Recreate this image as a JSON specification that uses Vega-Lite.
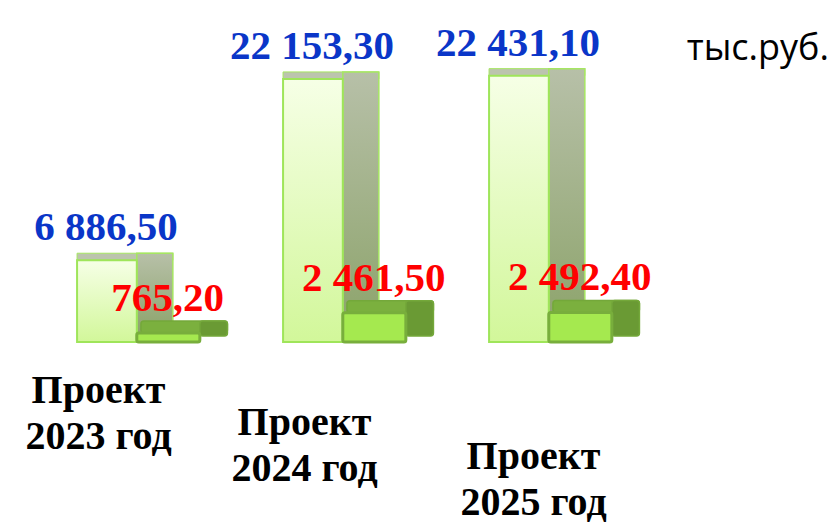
{
  "$schema": "https://vega.github.io/schema/vega-lite/v6.json",
  "width": 834,
  "height": 342,
  "autosize": {"type": "none"},
  "padding": {"left": 0, "right": 0, "top": 0, "bottom": 181},
  "background": "white",
  "config": {
    "view": {"stroke": null},
    "locale": {"number": {"decimal": ",", "thousands": " ", "grouping": [3], "currency": ["", ""]}}
  },
  "title": {
    "text": "тыс.руб.",
    "anchor": "end",
    "frame": "group",
    "orient": "top",
    "baseline": "alphabetic",
    "offset": -96,
    "dx": -5,
    "font": "Open Sans",
    "fontSize": 36,
    "fontWeight": "normal",
    "color": "#000000"
  },
  "data": {
    "values": [
      {"year": "Проект 2023 год", "a": 6886.5, "b": 765.2},
      {"year": "Проект 2024 год", "a": 22153.3, "b": 2461.5},
      {"year": "Проект 2025 год", "a": 22431.1, "b": 2492.4}
    ]
  },
  "layer": [
    {
      "mark": {"type": "rect", "fill": "#bcc4ae", "stroke": "#a6e662", "strokeWidth": 1, "yOffset": -7},
      "encoding": {
        "x": {
          "field": "year", "type": "nominal", "sort": null, "bandPosition": 0.26,
          "scale": {"type": "band", "range": [23.5, 641.5], "paddingInner": 0, "paddingOuter": 0},
          "axis": {
            "title": null, "domain": false, "ticks": false, "tickSize": 0, "grid": false,
            "bandPosition": 0.5,
            "labelAngle": 0, "labelFont": "Liberation Serif", "labelFontSize": 40,
            "labelFontWeight": "bold", "labelColor": "#000000", "labelLineHeight": 46,
            "labelLimit": 0, "labelOverlap": false, "labelBound": false, "labelFlush": false,
            "labelExpr": "[substring(datum.label, 0, 6), substring(datum.label, 7)]",
            "labelPadding": {
              "condition": [
                {"test": "datum.value == 'Проект 2024 год'", "value": 60},
                {"test": "datum.value == 'Проект 2025 год'", "value": 94}
              ],
              "value": 28
            },
            "labelOffset": {
              "condition": {"test": "datum.value == 'Проект 2025 год'", "value": -5},
              "value": -28
            }
          }
        },
        "x2": {"field": "year", "bandPosition": 0.725},
        "y": {"field": "a", "type": "quantitative", "scale": {"domain": [0, 28800], "nice": false}, "axis": null},
        "y2": {"field": "a"}
      }
    },
    {
      "mark": {
        "type": "rect", "stroke": "#a6e662", "strokeWidth": 1.5, "yOffset": -7, "y2Offset": -7,
        "fill": {"gradient": "linear", "x1": 0, "y1": 0, "x2": 0, "y2": 1,
          "stops": [{"offset": 0, "color": "#b7c0a8"}, {"offset": 1, "color": "#8ca36a"}]}
      },
      "encoding": {
        "x": {"field": "year", "type": "nominal", "sort": null, "bandPosition": 0.55},
        "x2": {"field": "year", "bandPosition": 0.725},
        "y": {"field": "a", "type": "quantitative"},
        "y2": {"datum": 0}
      }
    },
    {
      "mark": {
        "type": "rect", "stroke": "#9fe55a", "strokeWidth": 2,
        "fill": {"gradient": "linear", "x1": 0, "y1": 0, "x2": 0, "y2": 1,
          "stops": [{"offset": 0, "color": "#f6ffe6"}, {"offset": 1, "color": "#d2f79a"}]}
      },
      "encoding": {
        "x": {"field": "year", "type": "nominal", "sort": null, "bandPosition": 0.26},
        "x2": {"field": "year", "bandPosition": 0.55},
        "y": {"field": "a", "type": "quantitative"},
        "y2": {"datum": 0}
      }
    },
    {
      "mark": {"type": "rect", "fill": "#7bb03e", "stroke": "#74a83a", "strokeWidth": 1.5, "yOffset": -12, "cornerRadius": 3},
      "encoding": {
        "x": {"field": "year", "type": "nominal", "sort": null, "bandPosition": 0.57},
        "x2": {"field": "year", "bandPosition": 0.99},
        "y": {"field": "b", "type": "quantitative"},
        "y2": {"field": "b"}
      }
    },
    {
      "mark": {"type": "rect", "fill": "#6a9a34", "stroke": "#74a83a", "strokeWidth": 1.5, "yOffset": -12, "y2Offset": -6, "cornerRadius": 3},
      "encoding": {
        "x": {"field": "year", "type": "nominal", "sort": null, "bandPosition": 0.856},
        "x2": {"field": "year", "bandPosition": 0.99},
        "y": {"field": "b", "type": "quantitative"},
        "y2": {"datum": 0}
      }
    },
    {
      "mark": {"type": "rect", "fill": "#a5e94f", "stroke": "#78ae3c", "strokeWidth": 3, "cornerRadius": 2},
      "encoding": {
        "x": {"field": "year", "type": "nominal", "sort": null, "bandPosition": 0.55},
        "x2": {"field": "year", "bandPosition": 0.856},
        "y": {"field": "b", "type": "quantitative"},
        "y2": {"datum": 0}
      }
    },
    {
      "mark": {"type": "text", "font": "Liberation Serif", "fontSize": 41, "fontWeight": "bold", "fill": "#0a36c8", "align": "center", "baseline": "alphabetic", "dy": -20},
      "encoding": {
        "x": {"field": "year", "type": "nominal", "sort": null, "bandPosition": 0.4},
        "y": {"field": "a", "type": "quantitative"},
        "text": {"field": "a", "type": "quantitative", "format": ",.2f"}
      }
    },
    {
      "mark": {"type": "text", "font": "Liberation Serif", "fontSize": 41, "fontWeight": "bold", "fill": "#ff0000", "align": "center", "baseline": "alphabetic", "dy": -22},
      "encoding": {
        "x": {"field": "year", "type": "nominal", "sort": null, "bandPosition": 0.7},
        "y": {"field": "b", "type": "quantitative"},
        "text": {"field": "b", "type": "quantitative", "format": ",.2f"}
      }
    }
  ]
}
